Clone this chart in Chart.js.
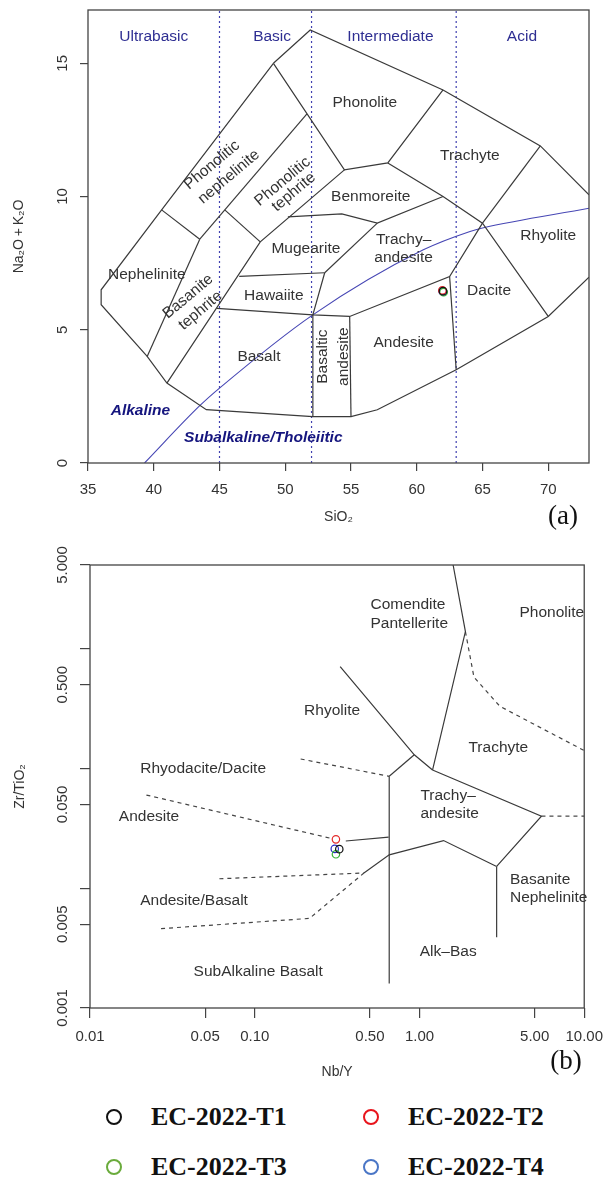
<!DOCTYPE html>
<html>
<head>
<meta charset="utf-8">
<script src="https://cdn.jsdelivr.net/npm/chart.js@4.4.1/dist/chart.umd.min.js"></script>
<style>
body { margin: 0; background: #fff; width: 613px; height: 1182px; position: relative; overflow: hidden; }
canvas { position: absolute; left: 0; }
#tas { top: 0; }
#wf { top: 535px; }
.leg { position: absolute; font: bold 26px "Liberation Serif", "Times New Roman", serif; color: #111; white-space: nowrap; line-height: 30px; }
.ring { position: absolute; width: 12px; height: 12px; border-radius: 50%; border: 2.5px solid; }
</style>
</head>
<body>
<canvas id="tas" width="613" height="535"></canvas>
<canvas id="wf" width="613" height="550"></canvas>
<div id="legend"></div>
<script>
// samples
var sampleNames = ['EC-2022-T1', 'EC-2022-T2', 'EC-2022-T3', 'EC-2022-T4'];
var tasSiO2 = [62.0, 61.95, 62.04, 61.98];
var tasAlkali = [6.45, 6.48, 6.41, 6.44];
var wfNbY = [0.326, 0.311, 0.311, 0.306];
var wfZrTi = [0.0212, 0.0256, 0.0192, 0.0213];

// (a) TAS field boundaries, [SiO2, Na2O+K2O]
var tasOuter = [[49.1, 15.0], [40.6, 9.5], [36.0, 6.5], [36.0, 5.94], [39.5, 4.0], [41.0, 3.0], [44.0, 2.0],
  [52.1, 1.74], [55.0, 1.74], [57.0, 2.0], [63.0, 3.5], [70.0, 5.5], [73.1, 6.97]];
var tasTop = [[49.1, 15.0], [51.9, 16.25], [62.0, 14.0], [69.4, 11.9], [73.1, 10.06]];
var tasNephTop = [[40.6, 9.5], [43.5, 8.4]];
var tasPhonNeph = [[43.5, 8.4], [51.65, 13.1]];
var tasPhonolite = [[49.1, 15.0], [54.5, 11.0], [57.8, 11.26], [62.0, 14.0]];
var tasBasTephL = [[39.5, 4.0], [43.5, 8.4]];
var tasPhonTeph = [[45.4, 9.5], [48.1, 8.3]];
var tasBasTephR = [[41.0, 3.0], [48.1, 8.3], [54.5, 11.0]];
var tasTrachyte = [[57.8, 11.26], [62.0, 10.0], [65.0, 9.0], [70.0, 5.5]];
var tasMugTop = [[50.2, 9.24], [54.3, 9.35], [57.0, 9.0], [62.0, 10.0]];
var tasMugRight = [[53.0, 7.14], [57.0, 9.0]];
var tasHawTop = [[46.5, 7.0], [53.0, 7.14]];
var tasBasAndL = [[53.0, 7.14], [52.1, 5.56], [52.1, 1.74]];
var tasBasaltTop = [[44.8, 5.8], [52.1, 5.56], [54.9, 5.5], [62.5, 7.0], [65.0, 9.0]];
var tasBasAndR = [[54.9, 5.5], [55.0, 1.74]];
var tasAndRight = [[62.5, 7.0], [63.0, 3.5]];
var tasRhyTop = [[65.0, 9.0], [69.4, 11.9]];
var tasAlkLine = [[39.3, 0], [43.5, 2.15], [45.0, 2.81], [52.1, 5.56], [60.5, 8.0], [64.05, 8.69], [65.0, 8.82], [73.1, 9.56]];
var tasDivisions = [45, 52, 63];

var tasXTicks = [35, 40, 45, 50, 55, 60, 65, 70];
var tasYTicks = [0, 5, 10, 15];
var tasYLabels = ['0', '5', '10', '15'];

// [text, SiO2, alkali, rotation]
var tasFieldNames = [
  ['Phonolite', 56.05, 13.51, 0], ['Trachyte', 64.04, 11.52, 0], ['Benmoreite', 56.5, 9.99, 0],
  ['Rhyolite', 70.0, 8.53, 0], ['Trachy\u2013', 59.0, 8.37, 0], ['andesite', 59.0, 7.7, 0],
  ['Dacite', 65.5, 6.46, 0], ['Andesite', 59.0, 4.51, 0], ['Mugearite', 51.57, 8.04, 0],
  ['Hawaiite', 49.13, 6.27, 0], ['Basalt', 48.0, 3.99, 0], ['Basaltic', 52.86, 3.99, -90],
  ['andesite', 54.46, 3.99, -90], ['Nephelinite', 39.47, 7.07, 0], ['Basanite', 42.61, 6.25, -40],
  ['tephrite', 43.55, 5.72, -40], ['Phonolitic', 44.43, 11.18, -40], ['nephelinite', 45.72, 10.74, -40],
  ['Phonolitic', 49.8, 10.56, -40], ['tephrite', 50.65, 10.17, -40]
];
var tasClassNames = [['Ultrabasic', 40.0, 15.99, 0], ['Basic', 49.0, 15.99, 0], ['Intermediate', 58.0, 15.99, 0], ['Acid', 68.0, 15.99, 0]];
var tasSeriesNames = [['Alkaline', 38.99, 1.97, 0], ['Subalkaline/Tholeiitic', 48.33, 0.94, 0]];

// (b) Winchester & Floyd boundaries, [Nb/Y, Zr/TiO2]
var wfComPhon = [[1.6, 5.0], [1.9, 1.39], [1.2, 0.097]];
var wfRhyCom = [[0.33, 0.71], [0.93, 0.13], [1.2, 0.097]];
var wfRhyTra = [[0.93, 0.13], [0.655, 0.086]];
var wfVertical = [[0.655, 0.086], [0.655, 0.0016]];
var wfTraTop = [[1.2, 0.097], [5.5, 0.04], [2.94, 0.0152]];
var wfTraBottom = [[2.94, 0.0152], [1.4, 0.025], [0.655, 0.019], [0.46, 0.0134]];
var wfBasNeph = [[2.94, 0.0152], [2.94, 0.0039]];
var wfAndTra = [[0.357, 0.0248], [0.65, 0.0267]];
var wfRhyDac = [[0.19, 0.12], [0.655, 0.086]];
var wfAndRhy = [[0.022, 0.06], [0.3, 0.0258]];
var wfAndBas = [[0.061, 0.012], [0.46, 0.0134]];
var wfBasSub = [[0.027, 0.0046], [0.215, 0.0056], [0.46, 0.0134]];
var wfPhonTra = [[1.9, 1.39], [2.14, 0.58], [3.08, 0.33], [10.0, 0.141]];
var wfTraBasR = [[5.5, 0.04], [10.0, 0.04]];

var wfXTicks = [0.01, 0.05, 0.1, 0.5, 1, 5, 10];
var wfXLabels = ['0.01', '0.05', '0.10', '0.50', '1.00', '5.00', '10.00'];
var wfYTicks = [0.001, 0.005, 0.01, 0.05, 0.1, 0.5, 1, 5];
var wfYLabels = ['0.001', '0.005', '', '0.050', '', '0.500', '', '5.000'];

// [text, Nb/Y, Zr/TiO2, rotation, align]
var wfFieldNames = [
  ['Comendite', 0.504, 2.32, 0, 'left'], ['Pantellerite', 0.504, 1.63, 0, 'left'],
  ['Phonolite', 6.36, 1.98, 0], ['Rhyolite', 0.2947, 0.304, 0], ['Trachyte', 3.01, 0.15, 0],
  ['Rhyodacite/Dacite', 0.0486, 0.0986, 0], ['Andesite', 0.0228, 0.0392, 0],
  ['Trachy\u2013', 1.0125, 0.059, 0, 'left'], ['andesite', 1.0125, 0.0415, 0, 'left'],
  ['Andesite/Basalt', 0.0428, 0.00784, 0], ['Basanite', 3.54, 0.01175, 0, 'left'],
  ['Nephelinite', 3.54, 0.00826, 0, 'left'], ['Alk\u2013Bas', 1.494, 0.00296, 0],
  ['SubAlkaline Basalt', 0.105, 0.00199, 0]
];

var markerColors = ['#111111', '#e42a2a', '#33b033', '#2a2ac8'];
var legendColors = ['#111111', '#e8141c', '#6aab3c', '#4a76c6'];

var FONT = '"Liberation Sans", Arial, sans-serif';
var LINE = '#3a3a3a';

function pts(list) {
  return list.map(function (p) { return { x: p[0], y: p[1] }; });
}

function lineSet(list, color, width, dash, smooth) {
  return {
    data: pts(list), showLine: true, pointRadius: 0, pointHoverRadius: 0,
    borderColor: color, borderWidth: width, borderDash: dash || [], fill: false,
    tension: 0, cubicInterpolationMode: smooth ? 'monotone' : 'default'
  };
}

function sampleSets(xs, ys, r) {
  return sampleNames.map(function (name, i) {
    return {
      label: name, data: [{ x: xs[i], y: ys[i] }], showLine: false,
      pointRadius: r, pointBorderWidth: 1.2, pointBackgroundColor: 'rgba(0,0,0,0)',
      borderColor: markerColors[i], pointBorderColor: markerColors[i]
    };
  });
}

function drawText(ctx, t, x, y, rot, align) {
  ctx.save();
  ctx.translate(x, y);
  if (rot) ctx.rotate(rot * Math.PI / 180);
  ctx.textAlign = align || 'center';
  ctx.textBaseline = 'middle';
  ctx.fillText(t, 0, 0);
  ctx.restore();
}

function framePlugin(p) {
  return {
    id: 'frame_' + p.id,
    afterDraw: function (chart) {
      var ctx = chart.ctx, a = chart.chartArea;
      var xs = chart.scales.x, ys = chart.scales.y;
      ctx.save();
      ctx.strokeStyle = '#444';
      ctx.lineWidth = 1.3;
      ctx.strokeRect(a.left, a.top, a.right - a.left, a.bottom - a.top);

      ctx.fillStyle = '#333';
      ctx.font = '15px ' + FONT;
      p.yTicks.forEach(function (v, i) {
        if (p.yLabels[i]) drawText(ctx, p.yLabels[i], 63, ys.getPixelForValue(v), -90);
      });

      ctx.font = '14px ' + FONT;
      drawText(ctx, p.yTitle, p.yTitleX, (a.top + a.bottom) / 2, -90);
      drawText(ctx, p.xTitle, (a.left + a.right) / 2, p.xTitleY, 0);

      ctx.fillStyle = '#111';
      ctx.font = '27px "Liberation Serif", "Times New Roman", serif';
      drawText(ctx, p.tag, p.tagX, p.tagY, 0);

      p.groups.forEach(function (g) {
        ctx.fillStyle = g.color;
        ctx.font = g.font;
        g.items.forEach(function (it) {
          drawText(ctx, it[0], xs.getPixelForValue(it[1]), ys.getPixelForValue(it[2]), it[3], it[4]);
        });
      });
      ctx.restore();
    }
  };
}

function axisOpts(extra) {
  return Object.assign({
    grid: { drawOnChartArea: false, drawTicks: true, color: '#444', lineWidth: 1.2 },
    border: { display: false }
  }, extra);
}

// ---- (a) TAS ----
var tasSets = sampleSets(tasSiO2, tasAlkali, 3.8);
[tasOuter, tasTop, tasNephTop, tasPhonNeph, tasPhonolite, tasBasTephL, tasPhonTeph, tasBasTephR,
  tasTrachyte, tasMugTop, tasMugRight, tasHawTop, tasBasAndL, tasBasaltTop, tasBasAndR, tasAndRight,
  tasRhyTop].forEach(function (l) { tasSets.push(lineSet(l, LINE, 1.2)); });
tasSets.push(lineSet(tasAlkLine, '#4646b4', 1.1, null, true));
tasDivisions.forEach(function (v) {
  tasSets.push(lineSet([[v, 0], [v, 17]], '#4040b0', 1.2, [2, 3]));
});

new Chart(document.getElementById('tas'), {
  type: 'scatter',
  data: { datasets: tasSets },
  options: {
    responsive: false, animation: false, devicePixelRatio: 1, events: [],
    layout: { padding: { left: 0, right: 24, top: 10, bottom: 0 } },
    plugins: { legend: { display: false }, tooltip: { enabled: false } },
    scales: {
      x: axisOpts({
        type: 'linear', min: 35, max: 73.1,
        afterBuildTicks: function (s) { s.ticks = tasXTicks.map(function (v) { return { value: v }; }); },
        afterFit: function (s) { s.height = 72; },
        ticks: { color: '#333', font: { size: 15, family: FONT }, padding: 10, autoSkip: false, minRotation: 0, maxRotation: 0 }
      }),
      y: axisOpts({
        type: 'linear', min: 0, max: 17,
        afterBuildTicks: function (s) { s.ticks = tasYTicks.map(function (v) { return { value: v }; }); },
        afterFit: function (s) { s.width = 88; },
        ticks: { display: false }
      })
    }
  },
  plugins: [framePlugin({
    id: 'tas', yTicks: tasYTicks, yLabels: tasYLabels,
    yTitle: 'Na\u2082O\u2009+\u2009K\u2082O', yTitleX: 19, xTitle: 'SiO\u2082', xTitleY: 517,
    tag: '(a)', tagX: 563, tagY: 517,
    groups: [
      { items: tasFieldNames, color: '#333', font: '15.5px ' + FONT },
      { items: tasClassNames, color: '#2e2e92', font: '15.5px ' + FONT },
      { items: tasSeriesNames, color: '#15157e', font: 'italic bold 15.5px ' + FONT }
    ]
  })]
});

// ---- (b) Winchester & Floyd ----
var wfSets = sampleSets(wfNbY, wfZrTi, 3.7);
[wfComPhon, wfRhyCom, wfRhyTra, wfVertical, wfTraTop, wfTraBottom, wfBasNeph, wfAndTra].forEach(function (l) {
  wfSets.push(lineSet(l, LINE, 1.2));
});
[wfRhyDac, wfAndRhy, wfAndBas, wfBasSub, wfPhonTra, wfTraBasR].forEach(function (l) {
  wfSets.push(lineSet(l, '#444', 1.2, [4, 4]));
});

new Chart(document.getElementById('wf'), {
  type: 'scatter',
  data: { datasets: wfSets },
  options: {
    responsive: false, animation: false, devicePixelRatio: 1, events: [],
    layout: { padding: { left: 0, right: 20, top: 30, bottom: 0 } },
    plugins: { legend: { display: false }, tooltip: { enabled: false } },
    scales: {
      x: axisOpts({
        type: 'logarithmic', min: 0.01, max: 10,
        afterBuildTicks: function (s) { s.ticks = wfXTicks.map(function (v) { return { value: v }; }); },
        afterFit: function (s) { s.height = 77; },
        grid: { drawOnChartArea: false, drawTicks: true, tickLength: 10, color: '#444', lineWidth: 1.2 },
        ticks: {
          color: '#333', font: { size: 15, family: FONT }, padding: 10, autoSkip: false, minRotation: 0, maxRotation: 0,
          callback: function (v, i) { return wfXLabels[i]; }
        }
      }),
      y: axisOpts({
        type: 'logarithmic', min: 0.001, max: 5,
        afterBuildTicks: function (s) { s.ticks = wfYTicks.map(function (v) { return { value: v }; }); },
        afterFit: function (s) { s.width = 90; },
        grid: { drawOnChartArea: false, drawTicks: true, tickLength: 10, color: '#444', lineWidth: 1.2 },
        ticks: { display: false }
      })
    }
  },
  plugins: [framePlugin({
    id: 'wf', yTicks: wfYTicks, yLabels: wfYLabels,
    yTitle: 'Zr/TiO\u2082', yTitleX: 20, xTitle: 'Nb/Y', xTitleY: 537,
    tag: '(b)', tagX: 566, tagY: 527,
    groups: [{ items: wfFieldNames, color: '#333', font: '15.5px ' + FONT }]
  })]
});

// ---- legend ----
(function () {
  var box = document.getElementById('legend');
  var cols = [114, 371], rows = [1117, 1167];
  sampleNames.forEach(function (name, i) {
    var cx = cols[i % 2], cy = rows[Math.floor(i / 2)];
    var ring = document.createElement('div');
    ring.className = 'ring';
    ring.style.left = (cx - 8.5) + 'px';
    ring.style.top = (cy - 8.5) + 'px';
    ring.style.borderColor = legendColors[i];
    box.appendChild(ring);
    var t = document.createElement('div');
    t.className = 'leg';
    t.textContent = name;
    t.style.left = (cx + 37) + 'px';
    t.style.top = (cy - 15) + 'px';
    box.appendChild(t);
  });
})();
</script>
</body>
</html>
